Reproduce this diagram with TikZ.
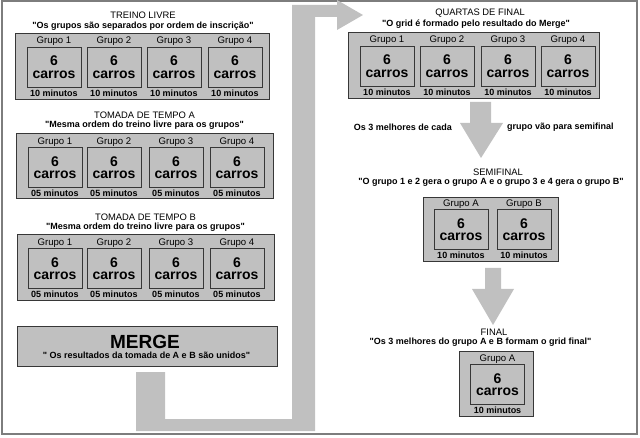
\documentclass[tikz,border=0pt]{standalone}
\usepackage{fontspec}
\setmainfont{Liberation Sans}
\usetikzlibrary{positioning,calc}
\definecolor{PanelClr}{RGB}{192,192,192}
\definecolor{EdgeClr}{RGB}{55,55,55}
\definecolor{FrameClr}{RGB}{125,125,125}
\newcommand{\aspas}{\textquotedbl}

\tikzset{
  panel/.style={draw=EdgeClr,fill=PanelClr,line width=0.8pt,inner sep=0pt},
  carros/.style={draw=EdgeClr,fill=PanelClr,line width=0.8pt,minimum width=54pt,
    minimum height=40pt,inner sep=0pt,align=center,
    font=\bfseries\fontsize{14}{12.5}\selectfont},
  grupo/.style={inner sep=0pt,font=\fontsize{9.6}{10}\selectfont},
  minutos/.style={inner sep=0pt,font=\bfseries\fontsize{9}{10}\selectfont},
  titulo/.style={inner sep=0pt,font=\fontsize{9.4}{10}\selectfont},
  citacao/.style={inner sep=0pt,font=\bfseries\fontsize{9}{10}\selectfont},
  seta/.style={fill=PanelClr,draw=none}
}

\begin{document}
\begin{tikzpicture}[x=1pt,y=-1pt]
\useasboundingbox (0,0) rectangle (640,438);
\draw[FrameClr,line width=1.5pt] (2,1) rectangle (637,434);

% caminho do merge para as quartas
\fill[seta] (136,372) -- (165,372) -- (165,419) -- (292,419) -- (292,17)
  -- (292,5) -- (337,5) -- (337,0) -- (363,15) -- (337,30) -- (337,17)
  -- (315,17) -- (315,431) -- (136,431) -- cycle;

% TREINO LIVRE
\node[titulo] (tl-t) at (143,15) {TREINO LIVRE};
\node[citacao] (tl-c) at (143,26) {\aspas Os grupos são separados por ordem de inscrição\aspas};
\node[panel,minimum width=254pt,minimum height=66pt] (tl) at (142,66) {};
\foreach \gx [count=\gi] in {54,114,174,235}{
  \node[carros] (tl\gi) at (\gx,67) {6\\carros};
  \node[grupo,above=0.5pt of tl\gi] {Grupo \gi};
  \node[minutos,below=2pt of tl\gi] {10 minutos};
}

% TOMADA DE TEMPO A
\node[titulo] (ta-t) at (144.5,115) {TOMADA DE TEMPO A};
\node[citacao] (ta-c) at (144.5,125) {\aspas Mesma ordem do treino livre para os grupos\aspas};
\node[panel,minimum width=257pt,minimum height=65pt] (ta) at (144.5,165.5) {};
\foreach \gx [count=\gi] in {55,114,176,237}{
  \node[carros] (ta\gi) at (\gx,167.5) {6\\carros};
  \node[grupo,above=0.5pt of ta\gi] {Grupo \gi};
  \node[minutos,below=2pt of ta\gi] {05 minutos};
}

% TOMADA DE TEMPO B
\node[titulo] (tb-t) at (145.5,217) {TOMADA DE TEMPO B};
\node[citacao] (tb-c) at (145.5,227) {\aspas Mesma ordem do treino livre para os grupos\aspas};
\node[panel,minimum width=257pt,minimum height=66pt] (tb) at (145.5,267) {};
\foreach \gx [count=\gi] in {55,114,176,237}{
  \node[carros] (tb\gi) at (\gx,268.5) {6\\carros};
  \node[grupo,above=0.5pt of tb\gi] {Grupo \gi};
  \node[minutos,below=2pt of tb\gi] {05 minutos};
}

% MERGE
\node[panel,minimum width=260pt,minimum height=40pt] (mg) at (147,346) {};
\node[inner sep=0pt,font=\bfseries\fontsize{19}{20}\selectfont] (mg-t) at (145,342) {MERGE};
\node[citacao] (mg-c) at (146.5,355) {\aspas{} Os resultados da tomada de A e B são unidos\aspas};

% QUARTAS DE FINAL
\node[titulo] (qf-t) at (480,13) {QUARTAS DE FINAL};
\node[citacao] (qf-c) at (476,24) {\aspas O grid é formado pelo resultado do Merge\aspas};
\node[panel,minimum width=251pt,minimum height=66pt] (qf) at (473.5,65) {};
\foreach \gx [count=\gi] in {387,447,508,568}{
  \node[carros] (qf\gi) at (\gx,66) {6\\carros};
  \node[grupo,above=0.5pt of qf\gi] {Grupo \gi};
  \node[minutos,below=2pt of qf\gi] {10 minutos};
}

% seta para a semifinal
\coordinate (s1) at (481,102);
\fill[seta] (s1) ++(-11,0) -- ++(21,0) -- ++(0,21) -- ++(12,0) -- (481,158)
  -- (460,123) -- (470,123) -- cycle;
\node[citacao,anchor=east] (s1-l) at (452,127) {Os 3 melhores de cada};
\node[citacao,anchor=west] (s1-r) at (507,127) {grupo vão para semifinal};

% SEMIFINAL
\node[titulo] (sf-t) at (498,172) {SEMIFINAL};
\node[citacao] (sf-c) at (491,182) {\aspas O grupo 1 e 2 gera o grupo A e o grupo 3 e 4 gera o grupo B\aspas};
\node[panel,minimum width=135pt,minimum height=64pt] (sf) at (490.5,229) {};
\foreach \gx/\gn in {461/A,524/B}{
  \node[carros] (sf\gn) at (\gx,229.5) {6\\carros};
  \node[grupo,above=0.5pt of sf\gn] {Grupo \gn};
  \node[minutos,below=2pt of sf\gn] {10 minutos};
}

% seta para a final
\coordinate (s2) at (493,268);
\fill[seta] (s2) ++(-8,0) -- ++(16,0) -- ++(0,21) -- ++(13,0) -- (493,325)
  -- (472,289) -- (485,289) -- cycle;

% FINAL
\node[titulo] (fn-t) at (494,332) {FINAL};
\node[citacao] (fn-c) at (480.5,342) {\aspas Os 3 melhores do grupo A e B formam o grid final\aspas};
\node[panel,minimum width=74pt,minimum height=65pt] (fn) at (496,383.5) {};
\node[carros] (fnA) at (497.5,384.5) {6\\carros};
\node[grupo,above=0.5pt of fnA] {Grupo A};
\node[minutos,below=2pt of fnA] {10 minutos};
\end{tikzpicture}
\end{document}
